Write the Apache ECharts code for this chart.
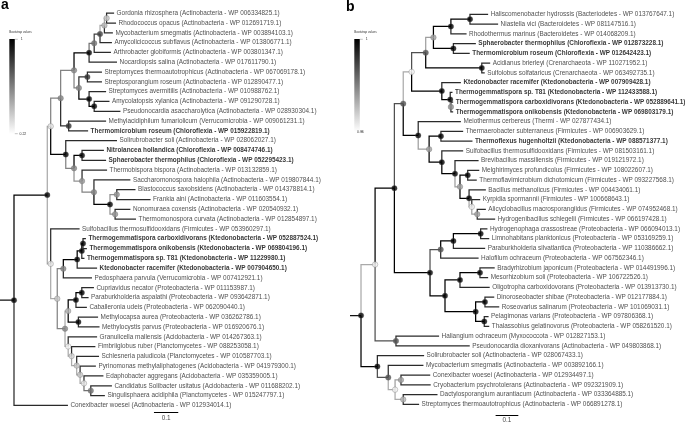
<!DOCTYPE html>
<html><head><meta charset="utf-8">
<script src="https://cdn.jsdelivr.net/npm/echarts@6/dist/echarts.min.js"></script>
<style>html,body{margin:0;padding:0;background:#fff}#c{width:685px;height:425px}</style>
</head><body><div id="c"></div>
<script>
// ---------- Panel a ----------
const leafNamesA = [
'Gordonia rhizosphera (Actinobacteria - WP 006334825.1)',
'Rhodococcus opacus (Actinobacteria - WP 012691719.1)',
'Mycobacterium smegmatis (Actinobacteria - WP 003894103.1)',
'Amycolicicoccus subflavus (Actinobacteria - WP 013806771.1)',
'Arthrobacter globiformis (Actinobacteria - WP 003801347.1)',
'Nocardiopsis salina (Actinobacteria - WP 017611790.1)',
'Streptomyces thermoautotrophicus (Actinobacteria - WP 067069178.1)',
'Streptosporangium roseum (Actinobacteria - WP 012890477.1)',
'Streptomyces avermitilis (Actinobacteria - WP 010988762.1)',
'Amycolatopsis xylanica (Actinobacteria - WP 091290728.1)',
'Pseudonocardia asaccharolytica (Actinobacteria - WP 028930304.1)',
'Methylacidiphilum fumariolicum (Verrucomicrobia - WP 009061231.1)',
'Thermomicrobium roseum (Chloroflexia - WP 015922819.1)',
'Solirubrobacter soli (Actinobacteria - WP 028062027.1)',
'Nitrolancea hollandica (Chloroflexia - WP 008474746.1)',
'Sphaerobacter thermophilus (Chloroflexia - WP 052295423.1)',
'Thermobispora bispora (Actinobacteria - WP 013132859.1)',
'Saccharomonospora halophila (Actinobacteria - WP 019807844.1)',
'Blastococcus saxobsidens (Actinobacteria - WP 014378814.1)',
'Frankia alni (Actinobacteria - WP 011603554.1)',
'Nonomuraea coxensis (Actinobacteria - WP 020540932.1)',
'Thermomonospora curvata (Actinobacteria - WP 012854897.1)',
'Sulfobacillus thermosulfidooxidans (Firmicutes - WP 053960297.1)',
'Thermogemmatispora carboxidivorans (Ktedonobacteria - WP 052887524.1)',
'Thermogemmatispora onikobensis (Ktedonobacteria - WP 069804196.1)',
'Thermogemmatispora sp. T81 (Ktedonobacteria - WP 11229980.1)',
'Ktedonobacter racemifer (Ktedonobacteria - WP 007904650.1)',
'Pedosphaera parvula (Verrucomicrobia - WP 007412921.1)',
'Cupriavidus necator (Proteobacteria - WP 011153987.1)',
'Paraburkholderia aspalathi (Proteobacteria - WP 093642871.1)',
'Caballeronia udeis (Proteobacteria - WP 062090440.1)',
'Methylocapsa aurea (Proteobacteria - WP 036262786.1)',
'Methylocystis parvus (Proteobacteria - WP 016920676.1)',
'Granulicella mallensis (Acidobacteria - WP 014267363.1)',
'Fimbriiglobus ruber (Planctomycetes - WP 088253058.1)',
'Schlesneria paludicola (Planctomycetes - WP 010587703.1)',
'Pyrinomonas methylaliphatogenes (Acidobacteria - WP 041979300.1)',
'Edaphobacter aggregans (Acidobacteria - WP 035359005.1)',
'Candidatus Solibacter usitatus (Acidobacteria - WP 011688202.1)',
'Singulisphaera acidiphila (Planctomycetes - WP 015247797.1)',
'Conexibacter woesei (Actinobacteria - WP 012934014.1)'
];
const leafBoldA = [12, 14, 15, 23, 24, 25, 26];
const leafDepthA = [0.412,0.420,0.407,0.403,0.399,0.424,0.362,0.362,0.379,0.393,0.438,0.379,0.305,0.424,0.370,0.379,0.383,0.479,0.500,0.562,0.479,0.502,0.270,0.296,0.300,0.290,0.342,0.321,0.329,0.307,0.300,0.346,0.352,0.342,0.335,0.350,0.337,0.368,0.403,0.374,0.222];
const nodeIdsA   = ['A','B','C','D','E','F','H','G','I','J','L','K','M','P','T','U','S','R','Q','O','N','Kc1','Kc2','Kc3','KP','Pa2','Pa3','Me','P1','A6','A5','A4','A3','A2','A1','Z','V2','V','BIG','root'];
const nodeDepthA = [0.381,0.372,0.354,0.330,0.309,0.302,0.330,0.309,0.267,0.247,0.225,0.192,0.151,0.280,0.423,0.416,0.395,0.329,0.280,0.247,0.213,0.284,0.279,0.260,0.203,0.279,0.255,0.265,0.223,0.316,0.288,0.272,0.258,0.237,0.223,0.210,0.178,0.151,0.137,0];
const nodeBootA  = [0.40,0.45,0.80,0.65,1,0.85,1,1,0.60,0.60,0.85,0.60,0.30,1,0.55,0.55,1,0.60,0.55,0.60,1,1,1,1,0.60,1,1,1,0.45,0.65,0.30,0.40,0.40,0.35,0.25,0.60,0.40,0.30,1,1];
const nodeKidsA  = [['L0','L1'],['A','L2'],['B','L3'],['C','L4'],['D','L5'],['L6','L7'],['L9','L10'],['L8','H'],['F','G'],['E','I'],['L11','L12'],['J','L'],['K','N'],['L14','L15'],['L18','L19'],['L20','L21'],['T','U'],['L17','S'],['L16','R'],['P','Q'],['L13','O'],['L23','L24'],['Kc1','L25'],['Kc2','L26'],['Kc3','L27'],['L28','L29'],['Pa2','L30'],['L31','L32'],['Pa3','Me'],['L38','L39'],['L37','A6'],['L36','A5'],['L35','A4'],['L34','A3'],['L33','A2'],['P1','A1'],['KP','Z'],['L22','V2'],['M','V'],['BIG','L40']];
const rootEdgeA = 0.0576;
const bootRangeA = [0.22, 1];
const scaleBarA = [0.576, 0.1, 40.75];

// ---------- Panel b ----------
const leafNamesB = [
'Haliscomenobacter hydrossis (Bacteriodetes - WP 013767647.1)',
'Niastella vici (Bacteroidetes - WP 081147516.1)',
'Rhodothermus marinus (Bacteroidetes - WP 014068209.1)',
'Sphaerobacter thermophilus (Chloroflexia - WP 012873228.1)',
'Thermomicrobium roseum (Chloroflexia - WP 012642423.1)',
'Acidianus brierleyi (Crenarchaeota - WP 110271952.1)',
'Sulfolobus solfataricus (Crenarchaeota - WP 063492735.1)',
'Ktedonobacter racemifer (Ktedonobacteria - WP 007909428.1)',
'Thermogemmatispora sp. T81 (Ktedonobacteria - WP 112433588.1)',
'Thermogemmatispora carboxidivorans (Ktedonobacteria - WP 052889641.1)',
'Thermogemmatispora onikobensis (Ktedonobacteria - WP 069803179.1)',
'Meiothermus cerbereus (Thermi - WP 027877434.1)',
'Thermaerobacter subterraneus (Firmicutes - WP 006903629.1)',
'Thermoflexus hugenholtzii (Ktedonobacteria - WP 088571377.1)',
'Sulfobacillus thermosulfidooxidans (Firmicutes - WP 081503161.1)',
'Brevibacillus massiliensis (Firmicutes - WP 019121972.1)',
'Melghirimyces profundicolus (Firmicutes - WP 108022607.1)',
'Thermoflavimicrobium dichotomicum (Firmicutes - WP 093227568.1)',
'Bacillus methanolicus (Firmicutes - WP 004434061.1)',
'Kyrpidia spormannii (Firmicutes - WP 100668643.1)',
'Alicyclobacillus macrosporangiidus (Firmicutes - WP 074952468.1)',
'Hydrogenibacillus schlegelii (Firmicutes - WP 066197428.1)',
'Hydrogenophaga crassostreae (Proteobacteria - WP 066094013.1)',
'Limnohabitans planktonicus (Proteobacteria - WP 053169259.1)',
'Paraburkholderia silvatlantica (Proteobacteria - WP 110386662.1)',
'Halofilum ochraceum (Proteobacteria - WP 067562346.1)',
'Bradyrhizobium japonicum (Proteobacteria - WP 014491996.1)',
'Mesorhizobium soli (Proteobacteria - WP 106722526.1)',
'Oligotropha carboxidovorans (Proteobacteria - WP 013913730.1)',
'Dinoroseobacter shibae (Proteobacteria - WP 012177884.1)',
'Roseovarius salinarum (Proteobacteria - WP 101069031.1)',
'Pelagimonas varians (Proteobacteria - WP 097806368.1)',
'Thalassobius gelatinovorus (Proteobacteria - WP 058261520.1)',
'Haliangium ochraceum (Myxococcota - WP 012827153.1)',
'Pseudonocardia dioxanivorans (Actinobacteria - WP 049803868.1)',
'Solirubrobacter soli (Actinobacteria - WP 028067433.1)',
'Mycobacterium smegmatis (Actinobacteria - WP 003892166.1)',
'Conexibacter woesei (Actinobacteria - WP 012934497.1)',
'Cryobacterium psychrotolerans (Actinobacteria - WP 092321909.1)',
'Dactylosporangium aurantiacum (Actinobacteria - WP 033364885.1)',
'Streptomyces thermoautotrophicus (Actinobacteria - WP 066891278.1)'
];
const leafBoldB = [3, 4, 7, 8, 9, 10, 13];
const leafDepthB = [0.560,0.604,0.465,0.506,0.479,0.569,0.545,0.440,0.403,0.406,0.406,0.440,0.450,0.491,0.450,0.518,0.521,0.510,0.550,0.525,0.550,0.591,0.557,0.565,0.547,0.518,0.589,0.560,0.567,0.587,0.609,0.562,0.565,0.344,0.479,0.278,0.275,0.305,0.307,0.337,0.256];
const nodeIdsB   = ['HN','HNR','ST','HNRST','AS','HNRSTAS','Kco','Ksp','Kall','Kbig','TT','AH','KAH','BKAH','MT','MTB','Brev','Sulf','TTS','Meio','UC','HL','HLP','HLPH','BM','BMO','DR','PT','DRPT','BMODRPT','Pro','UP2','HP','UP3','CC','DS','CCDS','MY','ACT','root'];
const nodeDepthB = [0.480,0.396,0.407,0.319,0.532,0.285,0.396,0.393,0.356,0.223,0.352,0.512,0.488,0.476,0.470,0.436,0.414,0.356,0.300,0.252,0.186,0.527,0.407,0.351,0.524,0.436,0.546,0.543,0.505,0.370,0.304,0.147,0.154,0.062,0.176,0.186,0.150,0.120,0.072,0];
const nodeBootB  = [1,1,1,0.60,1,0.80,0.65,1,1,0.38,1,0.60,0.40,1,1,0.60,1,1,0.60,1,0.80,1,1,0.80,1,1,1,1,1,1,1,1,0.80,0.40,0.60,0.55,0.40,0.80,1,1];
const nodeKidsB  = [['L0','L1'],['HN','L2'],['L3','L4'],['HNR','ST'],['L5','L6'],['HNRST','AS'],['L9','L10'],['L8','Kco'],['L7','Ksp'],['HNRSTAS','Kall'],['L12','L13'],['L20','L21'],['L19','AH'],['L18','KAH'],['L16','L17'],['MT','BKAH'],['L15','MTB'],['L14','Brev'],['TT','Sulf'],['L11','TTS'],['Kbig','Meio'],['L22','L23'],['HL','L24'],['HLP','L25'],['L26','L27'],['BM','L28'],['L29','L30'],['L31','L32'],['DR','PT'],['BMO','DRPT'],['HLPH','BMODRPT'],['UC','Pro'],['L33','L34'],['UP2','HP'],['L37','L38'],['L39','L40'],['CC','DS'],['L36','CCDS'],['L35','MY'],['UP3','ACT']];
const rootEdgeB = 0.0485;
const bootRangeB = [0.36, 1];
const scaleBarB = [0.593, 0.1, 41.1];

// ---------- helpers ----------
const FONT = '"Liberation Sans", Arial, Helvetica, sans-serif';
function shade(v, range, cap) {
  let t = (range[1] - v) / (range[1] - range[0]);
  t = Math.max(0, Math.min(1, t));
  const g = Math.round(Math.min(255 * t, cap));
  return 'rgb(' + g + ',' + g + ',' + g + ')';
}
function buildPanel(names, bold, tips, ids, depths, boots, kids, rootEdge, range, bar, gridIdx) {
  const pos = {};
  names.forEach((n, i) => { pos['L' + i] = { x: tips[i], y: i, leaf: true }; });
  ids.forEach((id, k) => { pos[id] = { x: depths[k], boot: boots[k], kids: kids[k] }; });
  function gy(id) {
    const p = pos[id];
    if (p.y !== undefined) return p.y;
    const ys = p.kids.map(gy);
    p.y = (Math.min.apply(null, ys) + Math.max.apply(null, ys)) / 2;
    return p.y;
  }
  ids.forEach(gy);
  const edges = [];
  ids.forEach(id => {
    const p = pos[id];
    p.kids.forEach(c => {
      const q = pos[c];
      edges.push({
        coords: [[p.x, p.y], [p.x, q.y], [q.x, q.y]],
        lineStyle: { color: q.leaf ? '#2a2a2a' : shade(q.boot, range, 170) }
      });
    });
  });
  const root = pos['root'];
  edges.push({ coords: [[-rootEdge, root.y], [root.x, root.y]], lineStyle: { color: '#111' } });
  const nodes = ids.map(id => ({
    value: [pos[id].x, pos[id].y, pos[id].boot],
    itemStyle: { color: shade(pos[id].boot, range, 255) }
  }));
  const labels = names.map((n, i) => ({
    name: n,
    value: [tips[i], i],
    label: { fontWeight: bold.indexOf(i) >= 0 ? 'bold' : 'normal', color: bold.indexOf(i) >= 0 ? '#000' : '#222' }
  }));
  return [
    { type: 'lines', coordinateSystem: 'cartesian2d', xAxisIndex: gridIdx, yAxisIndex: gridIdx,
      polyline: true, silent: true, z: 2, lineStyle: { width: 1.25, opacity: 1 }, data: edges },
    { type: 'scatter', xAxisIndex: gridIdx, yAxisIndex: gridIdx, symbolSize: 5.5, z: 4, silent: true,
      itemStyle: { borderColor: '#666', borderWidth: 0.4 }, data: nodes },
    { type: 'scatter', xAxisIndex: gridIdx, yAxisIndex: gridIdx, symbolSize: 1, z: 3, silent: true,
      itemStyle: { color: 'rgba(0,0,0,0)' },
      label: { show: true, position: 'right', distance: 2, formatter: p => p.name, fontSize: 6.4, fontFamily: FONT },
      data: labels },
    { type: 'lines', coordinateSystem: 'cartesian2d', xAxisIndex: gridIdx, yAxisIndex: gridIdx,
      silent: true, lineStyle: { width: 1, color: '#000', opacity: 1 },
      data: [{ coords: [[bar[0], bar[2]], [bar[0] + bar[1], bar[2]]] }] },
    { type: 'scatter', xAxisIndex: gridIdx, yAxisIndex: gridIdx, symbolSize: 1, silent: true,
      itemStyle: { color: 'rgba(0,0,0,0)' },
      label: { show: true, position: 'bottom', distance: 1.5, formatter: String(bar[1]), fontSize: 6.4, fontFamily: FONT, color: '#111' },
      data: [[bar[0] + bar[1] / 2, bar[2]]] }
  ];
}
function legend(x, y, h, range, lowX) {
  return [
    { type: 'text', left: x, top: y - 8, style: { text: 'Bootstrap values', fontSize: 3, fontFamily: FONT, fill: '#333' } },
    { type: 'rect', shape: { x: x, y: y, width: 5.5, height: h },
      style: { fill: new echarts.graphic.LinearGradient(0, 0, 0, 1, [{ offset: 0, color: '#000' }, { offset: 1, color: '#fff' }]) } },
    { type: 'line', shape: { x1: x + 5.5, y1: y + 0.3, x2: x + 8.5, y2: y + 0.3 }, style: { stroke: '#888', lineWidth: 0.5 } },
    { type: 'line', shape: { x1: x + 5.5, y1: y + h - 0.3, x2: x + 8.5, y2: y + h - 0.3 }, style: { stroke: '#888', lineWidth: 0.5 } },
    { type: 'text', x: x + 11.5, y: y, style: { text: String(range[1]), fontSize: 3.5, fontFamily: FONT, fill: '#333', verticalAlign: 'middle' } },
    { type: 'text', x: lowX, y: y + h, style: { text: String(range[0]), fontSize: 3.5, fontFamily: FONT, fill: '#333', verticalAlign: 'middle' } }
  ];
}

const chart = echarts.init(document.getElementById('c'), null, { renderer: 'canvas' });
const seriesA = buildPanel(leafNamesA, leafBoldA, leafDepthA, nodeIdsA, nodeDepthA, nodeBootA, nodeKidsA, rootEdgeA, bootRangeA, scaleBarA, 0);
const seriesB = buildPanel(leafNamesB, leafBoldB, leafDepthB, nodeIdsB, nodeDepthB, nodeBootB, nodeKidsB, rootEdgeB, bootRangeB, scaleBarB, 1);

chart.setOption({
  animation: false,
  backgroundColor: '#fff',
  grid: [
    { left: 0, width: 1.0576 * 243, top: 3.425, height: 424.6, containLabel: false },
    { left: 350, width: 1.0485 * 227, top: 4.55, height: 419.25, containLabel: false }
  ],
  xAxis: [
    { type: 'value', gridIndex: 0, min: -rootEdgeA, max: 1, show: false },
    { type: 'value', gridIndex: 1, min: -rootEdgeB, max: 1, show: false }
  ],
  yAxis: [
    { type: 'value', gridIndex: 0, min: -1, max: 42, inverse: true, show: false },
    { type: 'value', gridIndex: 1, min: -1, max: 42, inverse: true, show: false }
  ],
  graphic: [
    { type: 'text', x: 1, y: 5.5, style: { text: 'a', fontSize: 14, fontWeight: 'bold', fontFamily: FONT, fill: '#000', verticalAlign: 'middle' } },
    { type: 'text', x: 346, y: 7.6, style: { text: 'b', fontSize: 14, fontWeight: 'bold', fontFamily: FONT, fill: '#000', verticalAlign: 'middle' } }
  ].concat(legend(9.3, 39, 95, bootRangeA, 19.5)).concat(legend(354.3, 39, 92.7, bootRangeB, 357)),
  series: seriesA.concat(seriesB)
});
</script></body></html>
